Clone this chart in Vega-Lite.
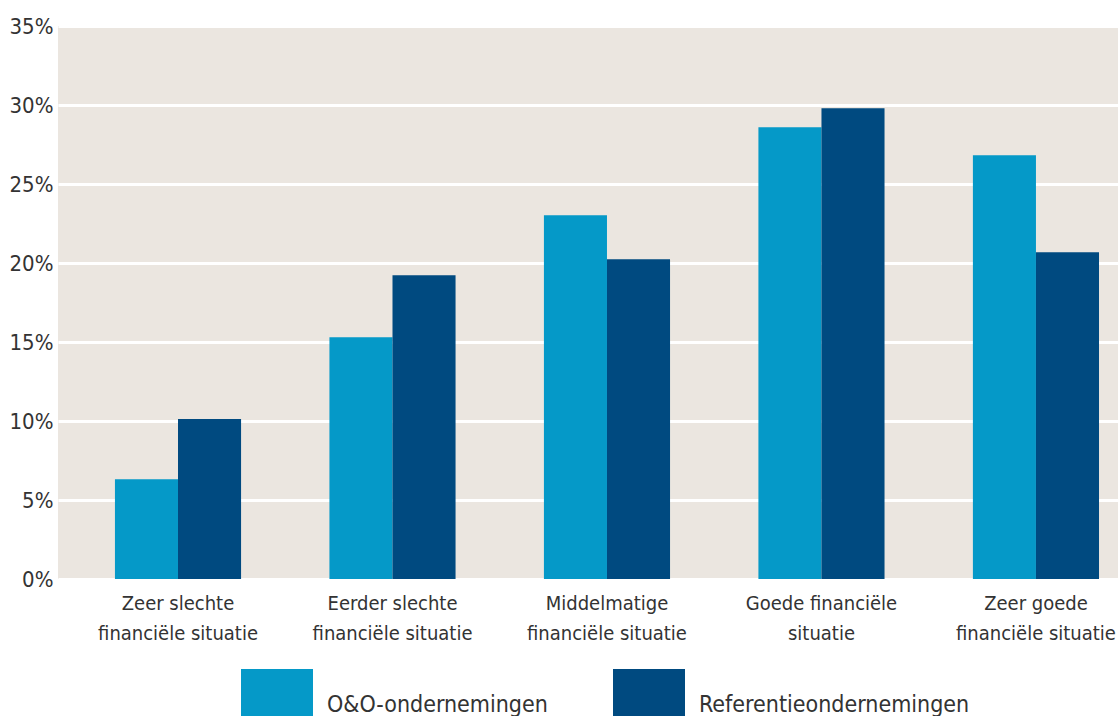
{
  "$schema": "https://vega.github.io/schema/vega-lite/v6.json",
  "autosize": "none",
  "width": 1060,
  "height": 553,
  "padding": {"left": 58, "top": 26, "right": 0, "bottom": 137},
  "background": "#ffffff",
  "data": {
    "values": [
      {"categorie": "Zeer slechte|financiële situatie", "groep": "O&O-ondernemingen", "aandeel": 0.0632},
      {"categorie": "Zeer slechte|financiële situatie", "groep": "Referentieondernemingen", "aandeel": 0.1012},
      {"categorie": "Eerder slechte|financiële situatie", "groep": "O&O-ondernemingen", "aandeel": 0.153},
      {"categorie": "Eerder slechte|financiële situatie", "groep": "Referentieondernemingen", "aandeel": 0.1923},
      {"categorie": "Middelmatige|financiële situatie", "groep": "O&O-ondernemingen", "aandeel": 0.2302},
      {"categorie": "Middelmatige|financiële situatie", "groep": "Referentieondernemingen", "aandeel": 0.2024},
      {"categorie": "Goede financiële|situatie", "groep": "O&O-ondernemingen", "aandeel": 0.2859},
      {"categorie": "Goede financiële|situatie", "groep": "Referentieondernemingen", "aandeel": 0.2979},
      {"categorie": "Zeer goede|financiële situatie", "groep": "O&O-ondernemingen", "aandeel": 0.2682},
      {"categorie": "Zeer goede|financiële situatie", "groep": "Referentieondernemingen", "aandeel": 0.2068}
    ]
  },
  "mark": {"type": "bar"},
  "encoding": {
    "x": {
      "field": "categorie",
      "type": "nominal",
      "sort": null,
      "scale": {"paddingInner": 0.412, "paddingOuter": 0.177, "align": 0.75},
      "axis": {
        "title": null,
        "domain": false,
        "ticks": false,
        "tickSize": 0,
        "labelAngle": 0,
        "labelExpr": "split(datum.label, '|')",
        "labelFontSize": 20,
        "labelLineHeight": 30,
        "labelPadding": 14,
        "labelColor": "#333333",
        "labelFont": "DejaVu Sans Condensed, sans-serif",
        "grid": false
      }
    },
    "xOffset": {
      "field": "groep",
      "type": "nominal",
      "scale": {"paddingInner": 0, "paddingOuter": 0}
    },
    "y": {
      "field": "aandeel",
      "type": "quantitative",
      "scale": {"domain": [0, 0.35], "nice": false},
      "axis": {
        "title": null,
        "domain": false,
        "ticks": false,
        "tickSize": 0,
        "values": [0, 0.05, 0.1, 0.15, 0.2, 0.25, 0.3, 0.35],
        "format": ".0%",
        "labelFontSize": 22,
        "labelPadding": 5,
        "labelColor": "#333333",
        "labelFont": "DejaVu Sans Condensed, sans-serif",
        "grid": true,
        "gridColor": "#ffffff",
        "gridWidth": 3,
        "gridOpacity": 1
      }
    },
    "color": {
      "field": "groep",
      "type": "nominal",
      "scale": {"domain": ["O&O-ondernemingen", "Referentieondernemingen"], "range": ["#0599c8", "#004a80"]},
      "legend": {
        "title": null,
        "orient": "none",
        "legendX": 183,
        "legendY": 643,
        "direction": "horizontal",
        "columns": 2,
        "columnPadding": 65,
        "padding": 0,
        "symbolType": "square",
        "symbolSize": 5184,
        "symbolStrokeWidth": 0,
        "symbolOpacity": 1,
        "labelOffset": 14,
        "labelFontSize": 23,
        "labelColor": "#333333",
        "labelFont": "DejaVu Sans Condensed, sans-serif",
        "labelLimit": 400
      }
    }
  },
  "config": {
    "view": {"fill": "#ebe6e0", "stroke": null}
  }
}
